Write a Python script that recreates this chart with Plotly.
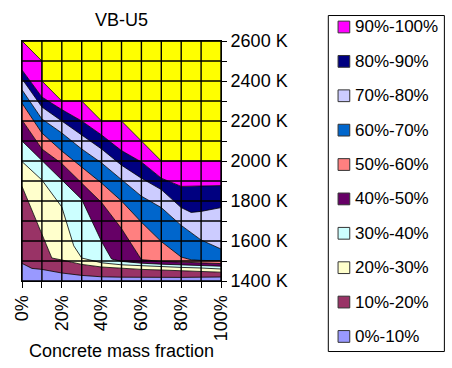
import plotly.graph_objects as go

# ---------------- data ----------------
title_text = "VB-U5"
x_title = "Concrete mass fraction"
band_labels = ["0%-10%", "10%-20%", "20%-30%", "30%-40%", "40%-50%",
               "50%-60%", "60%-70%", "70%-80%", "80%-90%", "90%-100%"]
band_colors = ["#9999FF", "#993366", "#FFFFCC", "#CCFFFF", "#660066",
               "#FF8080", "#0066CC", "#CCCCFF", "#000080", "#FF00FF"]
top_color = "#FFFF00"

# upper edge of each band: concrete mass fraction (%) and temperature (K)
edge10_x = [0, 5, 10, 20, 30, 40, 50, 60, 70, 80, 90, 100]
edge10_t = [1488, 1463, 1458, 1440, 1428, 1421, 1419, 1418, 1418, 1418, 1419, 1420]
edge20_x = [0, 10, 15, 20, 30, 40, 50, 60, 70, 80, 90, 100]
edge20_t = [1873, 1640, 1515, 1505, 1483, 1470, 1463, 1458, 1455, 1452, 1448, 1444]
edge30_x = [0, 10, 20, 26, 30, 40, 50, 60, 70, 80, 90, 100]
edge30_t = [1997, 1905, 1770, 1576, 1515, 1491, 1481, 1476, 1472, 1468, 1465, 1460]
edge40_x = [0, 10, 20, 30, 40, 45, 50, 60, 70, 80, 90, 100]
edge40_t = [2100, 2003, 1906, 1808, 1597, 1510, 1498, 1489, 1484, 1480, 1477, 1474]
edge50_x = [0, 10, 20, 30, 40, 50, 60, 70, 80, 90, 100]
edge50_t = [2205, 2060, 1987, 1889, 1792, 1662, 1507, 1498, 1494, 1490, 1487]
edge60_x = [0, 10, 20, 30, 40, 50, 60, 70, 80, 85, 90, 100]
edge60_t = [2289, 2140, 2050, 1971, 1889, 1800, 1694, 1597, 1520, 1506, 1503, 1501]
edge70_x = [0, 10, 20, 30, 40, 50, 60, 70, 80, 90, 100]
edge70_t = [2356, 2210, 2140, 2060, 1990, 1906, 1824, 1767, 1678, 1605, 1560]
edge80_x = [0, 10, 20, 30, 40, 50, 60, 70, 80, 85, 90, 100]
edge80_t = [2411, 2270, 2200, 2130, 2060, 1979, 1914, 1857, 1767, 1743, 1748, 1767]
edge90_x = [0, 10, 20, 30, 40, 50, 60, 70, 80, 90, 100]
edge90_t = [2455, 2320, 2257, 2200, 2130, 2052, 1995, 1914, 1873, 1875, 1877]
edge100_x = [0, 10, 10, 20, 30, 40, 50, 60, 70, 80, 90, 100]
edge100_t = [2600, 2500, 2400, 2300, 2300, 2200, 2200, 2100, 2000, 2000, 2000, 2000]
ceiling_x = [0, 100]
ceiling_t = [2600, 2600]

x_ticks = [0, 20, 40, 60, 80, 100]
x_tick_labels = ["0%", "20%", "40%", "60%", "80%", "100%"]
y_ticks = [1400, 1600, 1800, 2000, 2200, 2400, 2600]
y_tick_labels = ["1400 K", "1600 K", "1800 K", "2000 K", "2200 K", "2400 K", "2600 K"]

edges_x = [edge10_x, edge20_x, edge30_x, edge40_x, edge50_x,
           edge60_x, edge70_x, edge80_x, edge90_x, edge100_x]
edges_t = [edge10_t, edge20_t, edge30_t, edge40_t, edge50_t,
           edge60_t, edge70_t, edge80_t, edge90_t, edge100_t]

# ---------------- figure ----------------
FONT = "Liberation Sans, Arial, Helvetica, sans-serif"
W, H = 452, 368
L, R, T, B = 17, 221, 41, 286

fig = go.Figure()
for i, (xs, ts) in enumerate(zip(edges_x, edges_t)):
    fig.add_trace(go.Scatter(
        x=xs, y=ts, mode="lines", name=band_labels[i],
        line=dict(color="black", width=0.8),
        fill="tozeroy" if i == 0 else "tonexty",
        fillcolor=band_colors[i], showlegend=False, hoverinfo="skip"))
fig.add_trace(go.Scatter(
    x=ceiling_x, y=ceiling_t, mode="lines", line=dict(color="black", width=0.8),
    fill="tonexty", fillcolor=top_color, showlegend=False, hoverinfo="skip"))

shapes = []
# grid drawn above the coloured bands
for xv in range(0, 101, 10):
    shapes.append(dict(type="line", xref="x", yref="y", x0=xv, x1=xv, y0=1400, y1=2600,
                       line=dict(color="black", width=1.4), layer="above"))
for yv in range(1400, 2601, 100):
    shapes.append(dict(type="line", xref="x", yref="y", x0=0, x1=100, y0=yv, y1=yv,
                       line=dict(color="black", width=1.4), layer="above"))

def pxx(px):
    return (px - L) / (R - L)

def pyy(py):
    return (B - py) / (B - T)

# legend box
shapes.append(dict(type="rect", xref="paper", yref="paper",
                   x0=pxx(331), x1=pxx(450), y0=pyy(358), y1=pyy(15),
                   line=dict(color="black", width=1), fillcolor="white", layer="above"))
annotations = []
legend_order = list(range(len(band_labels)))[::-1]
for k, idx in enumerate(legend_order):
    cy = 26.7 + k * 35.1
    shapes.append(dict(type="rect", xref="paper", yref="paper",
                       x0=pxx(341), x1=pxx(353), y0=pyy(cy + 6), y1=pyy(cy - 6),
                       line=dict(color="#333333", width=1), fillcolor=band_colors[idx],
                       layer="above"))
    annotations.append(dict(xref="paper", yref="paper", x=pxx(356), y=pyy(cy),
                            xanchor="left", yanchor="middle", showarrow=False,
                            text=band_labels[idx], font=dict(family=FONT, size=17, color="black")))

fig.update_layout(
    width=W, height=H,
    margin=dict(l=L, r=W - R, t=T, b=H - B, pad=0),
    paper_bgcolor="white", plot_bgcolor="white",
    font=dict(family=FONT, size=18, color="black"),
    title=dict(text=title_text, x=0.5, xref="paper", xanchor="center",
               y=1 - 20 / H, yref="container", yanchor="middle",
               font=dict(family=FONT, size=18, color="black")),
    showlegend=False,
    shapes=shapes, annotations=annotations,
    xaxis=dict(range=[0, 100], tickmode="array", tickvals=x_ticks, ticktext=x_tick_labels,
               tickangle=-90,
               ticks="outside", ticklen=6, tickcolor="black", tickwidth=1,
               minor=dict(dtick=10, ticks="outside", ticklen=6, tickcolor="black", showgrid=False),
               showgrid=False, zeroline=False, showline=True, linecolor="black", mirror=True,
               tickfont=dict(family=FONT, size=18),
               title=dict(text=x_title, standoff=2, font=dict(family=FONT, size=18))),
    yaxis=dict(range=[1400, 2600], side="right", tickmode="array", tickvals=y_ticks,
               ticktext=y_tick_labels,
               ticks="outside", ticklen=5, tickcolor="black", tickwidth=1,
               minor=dict(dtick=100, ticks="outside", ticklen=5, tickcolor="black", showgrid=False),
               showgrid=False, zeroline=False, showline=True, linecolor="black", mirror=True,
               tickfont=dict(family=FONT, size=18)),
)

fig.write_html("out.html")
